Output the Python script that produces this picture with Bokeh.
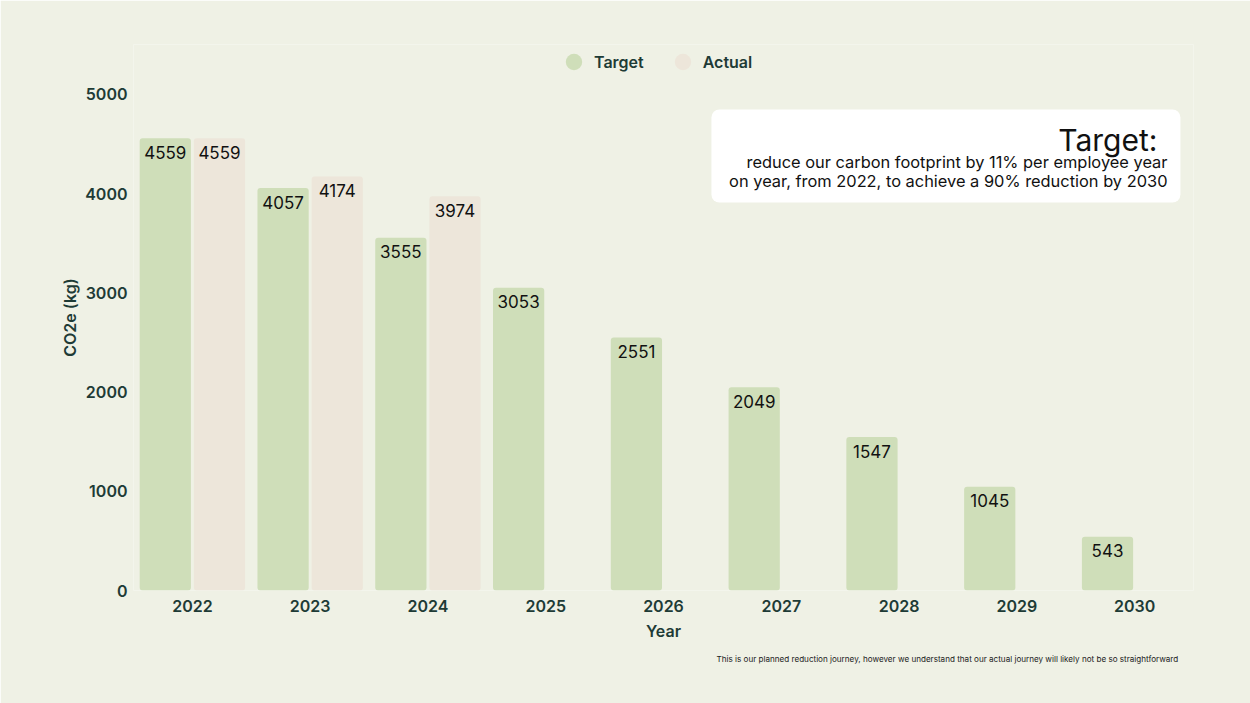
from bokeh.plotting import figure
from bokeh.models import (ColumnDataSource, Legend, LegendItem, BoxAnnotation, Label,
                          FactorRange, Title)
from bokeh.transform import dodge
from bokeh.core.properties import value
from bokeh.embed import file_html
from bokeh.resources import INLINE

years = ["2022", "2023", "2024", "2025", "2026", "2027", "2028", "2029", "2030"]
target = [4559, 4057, 3555, 3053, 2551, 2049, 1547, 1045, 543]
actual_years = ["2022", "2023", "2024"]
actual = [4559, 4174, 3974]

BG = "#eff1e5"
GREEN = "#cfdeb9"
BEIGE = "#ede6da"
DARK = "#1e3b36"
FONT = "Inter"
SEMI = "'Inter SemiBold', 'Inter Semi Bold', Inter"

src_t = ColumnDataSource(dict(year=years, val=target, txt=[str(v) for v in target]))
src_a = ColumnDataSource(dict(year=actual_years, val=actual, txt=[str(v) for v in actual]))

p = figure(width=1250, height=703, x_range=FactorRange(*years), y_range=(0, 5504),
           output_backend="svg", toolbar_location=None,
           background_fill_color=BG, border_fill_color=BG,
           min_border_left=133, min_border_right=57, min_border_top=44, min_border_bottom=113)
p.outline_line_color = None
p.xgrid.grid_line_color = None
p.ygrid.grid_line_color = None

p.vbar(x=dodge("year", -0.23, range=p.x_range), top="val", width=0.435, source=src_t,
       fill_color=GREEN, line_color=None, border_radius=3)
p.vbar(x=dodge("year", 0.23, range=p.x_range), top="val", width=0.435, source=src_a,
       fill_color=BEIGE, line_color=None, border_radius=3)

for src, off in ((src_t, -0.23), (src_a, 0.23)):
    p.text(x=dodge("year", off, range=p.x_range), y="val", text="txt", source=src,
           text_font=value(FONT), text_font_size="17px", text_color="#111111",
           text_align="center", text_baseline="middle", y_offset=14)

# legend with circle glyphs (renderers hold a single hidden point)
nan = float("nan")
lt = p.scatter(x=[years[0]], y=[nan], marker="circle", size=18, fill_color=GREEN, line_color=None)
la = p.scatter(x=[years[0]], y=[nan], marker="circle", size=18, fill_color=BEIGE, line_color=None)
legend = Legend(items=[LegendItem(label="Target", renderers=[lt]),
                       LegendItem(label="Actual", renderers=[la])],
                orientation="horizontal", location=(420, 506),
                glyph_width=41, glyph_height=45, label_height=18, label_standoff=0,
                spacing=18, padding=0, margin=0,
                border_line_color=None, background_fill_alpha=0,
                label_text_font=SEMI, label_text_font_size="16px",
                label_text_font_style="normal", label_text_color=DARK)
p.add_layout(legend, "center")

# axes
for ax in (p.xaxis[0], p.yaxis[0]):
    ax.axis_line_color = None
    ax.major_tick_line_color = None
    ax.minor_tick_line_color = None
    ax.major_tick_out = 0
    ax.major_tick_in = 0
    ax.minor_tick_out = 0
    ax.major_label_text_font = SEMI
    ax.major_label_text_font_size = "16px"
    ax.major_label_text_font_style = "normal"
    ax.major_label_text_color = DARK
    ax.axis_label_text_font = SEMI
    ax.axis_label_text_font_size = "16px"
    ax.axis_label_text_font_style = "normal"
    ax.axis_label_text_color = DARK
p.xaxis.axis_label = "Year"
p.yaxis.axis_label = "CO2e (kg)"
p.yaxis.ticker = [0, 1000, 2000, 3000, 4000, 5000]
p.xaxis.major_label_standoff = 9
p.yaxis.major_label_standoff = 6
p.xaxis.axis_label_standoff = 6
p.yaxis.axis_label_standoff = 2

# info box
box = BoxAnnotation(left=4.907, right=8.889, bottom=3911, top=4849,
                    fill_color="white", fill_alpha=1, line_color=None, border_radius=8)
p.add_layout(box)
p.add_layout(Label(x=8.694, y=4546, text="Target:", text_font=FONT, text_font_size="30px",
                   text_align="right", text_baseline="middle", text_color="#111111"))
p.add_layout(Label(x=8.779, y=4315, text="reduce our carbon footprint by 11% per employee year",
                   text_font=FONT, text_font_size="16.4px", text_align="right",
                   text_baseline="middle", text_color="#111111"))
p.add_layout(Label(x=8.779, y=4123, text="on year, from 2022, to achieve a 90% reduction by 2030",
                   text_font=FONT, text_font_size="16.4px", text_align="right",
                   text_baseline="middle", text_color="#111111"))

note = Title(text="This is our planned reduction journey, however we understand  that our actual journey will likely not be so straightforward",
             align="right", offset=13, standoff=16, text_font=FONT, text_font_size="8.1px",
             text_font_style="normal", text_color="#222222")
p.add_layout(note, "below")

html = file_html(p, INLINE)
html = html.replace("<body>", "<body style=\"background-color:%s\">" % BG, 1)
open("out.html", "w").write(html)
